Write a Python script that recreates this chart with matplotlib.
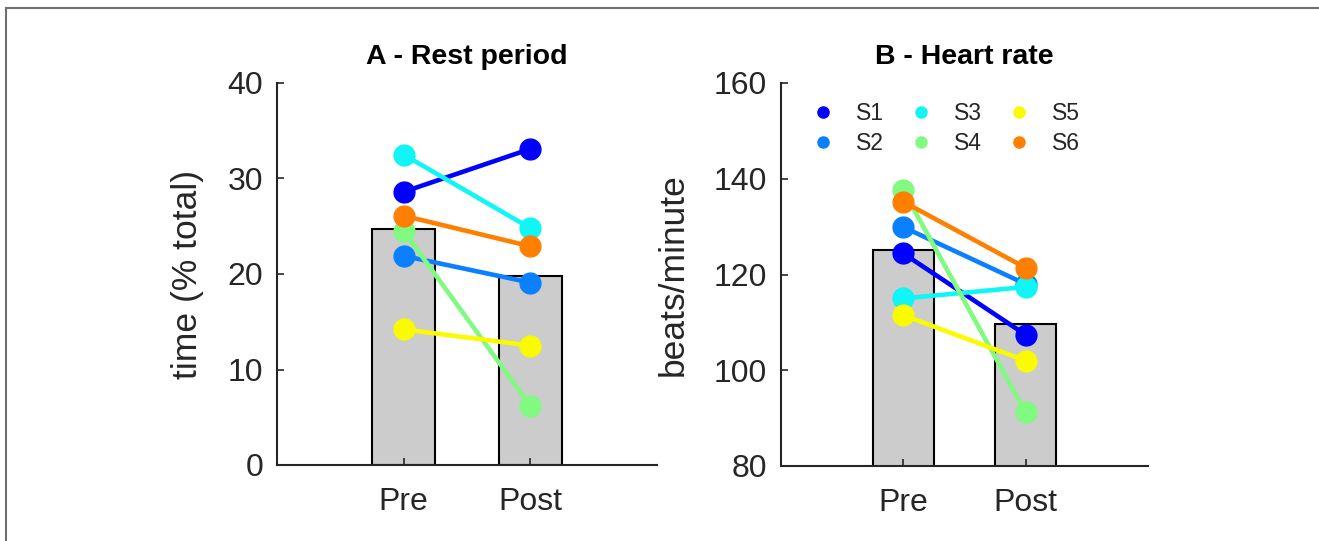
"""
Rest period and heart rate, pre vs post, one line per subject
"""

import matplotlib
matplotlib.use("Agg")
from matplotlib import pyplot as plt
from matplotlib.lines import Line2D

plt.rcParams['font.family'] = ['Liberation Sans', 'DejaVu Sans']

# data
subjects = ['S1', 'S2', 'S3', 'S4', 'S5', 'S6']
colors = ['#0000ff', '#0a80ff', '#10f5f5', '#80fa80', '#fafa00', '#ff8000']
phases = ['Pre', 'Post']

rest_pre = [28.6, 21.9, 32.5, 24.5, 14.2, 26.1]
rest_post = [33.1, 19.1, 24.8, 6.2, 12.5, 22.9]
rest_mean = [24.7, 19.8]

hr_pre = [124.4, 129.9, 115.0, 137.6, 111.5, 135.2]
hr_post = [107.4, 118.0, 117.4, 91.2, 102.0, 121.4]
hr_mean = [125.2, 109.6]

W, H = 1319, 541
fig = plt.figure(figsize=(W / 100, H / 100), dpi=100)

TXT = '#262626'


def panel(rect, pre, post, means, ylim, yticks, ylabel, title, ylabel_x):
    ax = fig.add_axes(rect)
    x = [1, 2]
    ax.bar(x, means, width=0.5, color='#cccccc', edgecolor='black',
           linewidth=1.5, zorder=1)
    for i in range(len(subjects)):
        ax.plot(x, [pre[i], post[i]], color=colors[i], linewidth=3.3,
                marker='o', markersize=15, zorder=3)
    ax.set_xlim(0, 3)
    ax.set_ylim(*ylim)
    ax.set_yticks(yticks)
    ax.set_xticks(x)
    ax.set_xticklabels(phases)
    for s in ['top', 'right']:
        ax.spines[s].set_visible(False)
    for s in ['left', 'bottom']:
        ax.spines[s].set_color(TXT)
        ax.spines[s].set_linewidth(1.5)
        ax.spines[s].set_zorder(4)
    ax.tick_params(axis='both', direction='in', length=5, width=1.2,
                   colors=TXT, labelcolor=TXT, labelsize=23)
    ax.tick_params(axis='y', pad=10)
    ax.tick_params(axis='x', pad=16)
    ax.set_ylabel(ylabel, fontsize=25.5, color=TXT)
    ax.yaxis.set_label_coords(ylabel_x, 0.5)
    ax.set_title(title, fontsize=20.5, fontweight='bold', pad=14)
    return ax


axA = panel([277 / W, 1 - 465 / H, 380 / W, 382 / H], rest_pre, rest_post,
            rest_mean, (0, 40), [0, 10, 20, 30, 40], 'time (% total)',
            'A - Rest period', (204 - 277) / 380)
axB = panel([781 / W, 1 - 466 / H, 367 / W, 383 / H], hr_pre, hr_post,
            hr_mean, (80, 160), [80, 100, 120, 140, 160], 'beats/minute',
            'B - Heart rate', (690 - 781) / 367)

handles = [Line2D([], [], linestyle='none', marker='o', markersize=8,
                  color=c) for c in colors]
axB.legend(handles, subjects, ncol=3, loc='upper left',
           bbox_to_anchor=(0.083, 0.95), frameon=False, fontsize=16.5,
           handlelength=1.0, handletextpad=0.94, columnspacing=1.12,
           labelspacing=0.32, borderpad=0, borderaxespad=0,
           labelcolor=TXT)

# grey frame on the left and top edges
fig.add_artist(Line2D([6 / W, 6 / W], [0, 1 - 8 / H], color='#707070',
                      linewidth=1.5, transform=fig.transFigure))
fig.add_artist(Line2D([6 / W, 1], [1 - 8 / H, 1 - 8 / H], color='#707070',
                      linewidth=1.5, transform=fig.transFigure))

fig.savefig('out.png', dpi=100)
